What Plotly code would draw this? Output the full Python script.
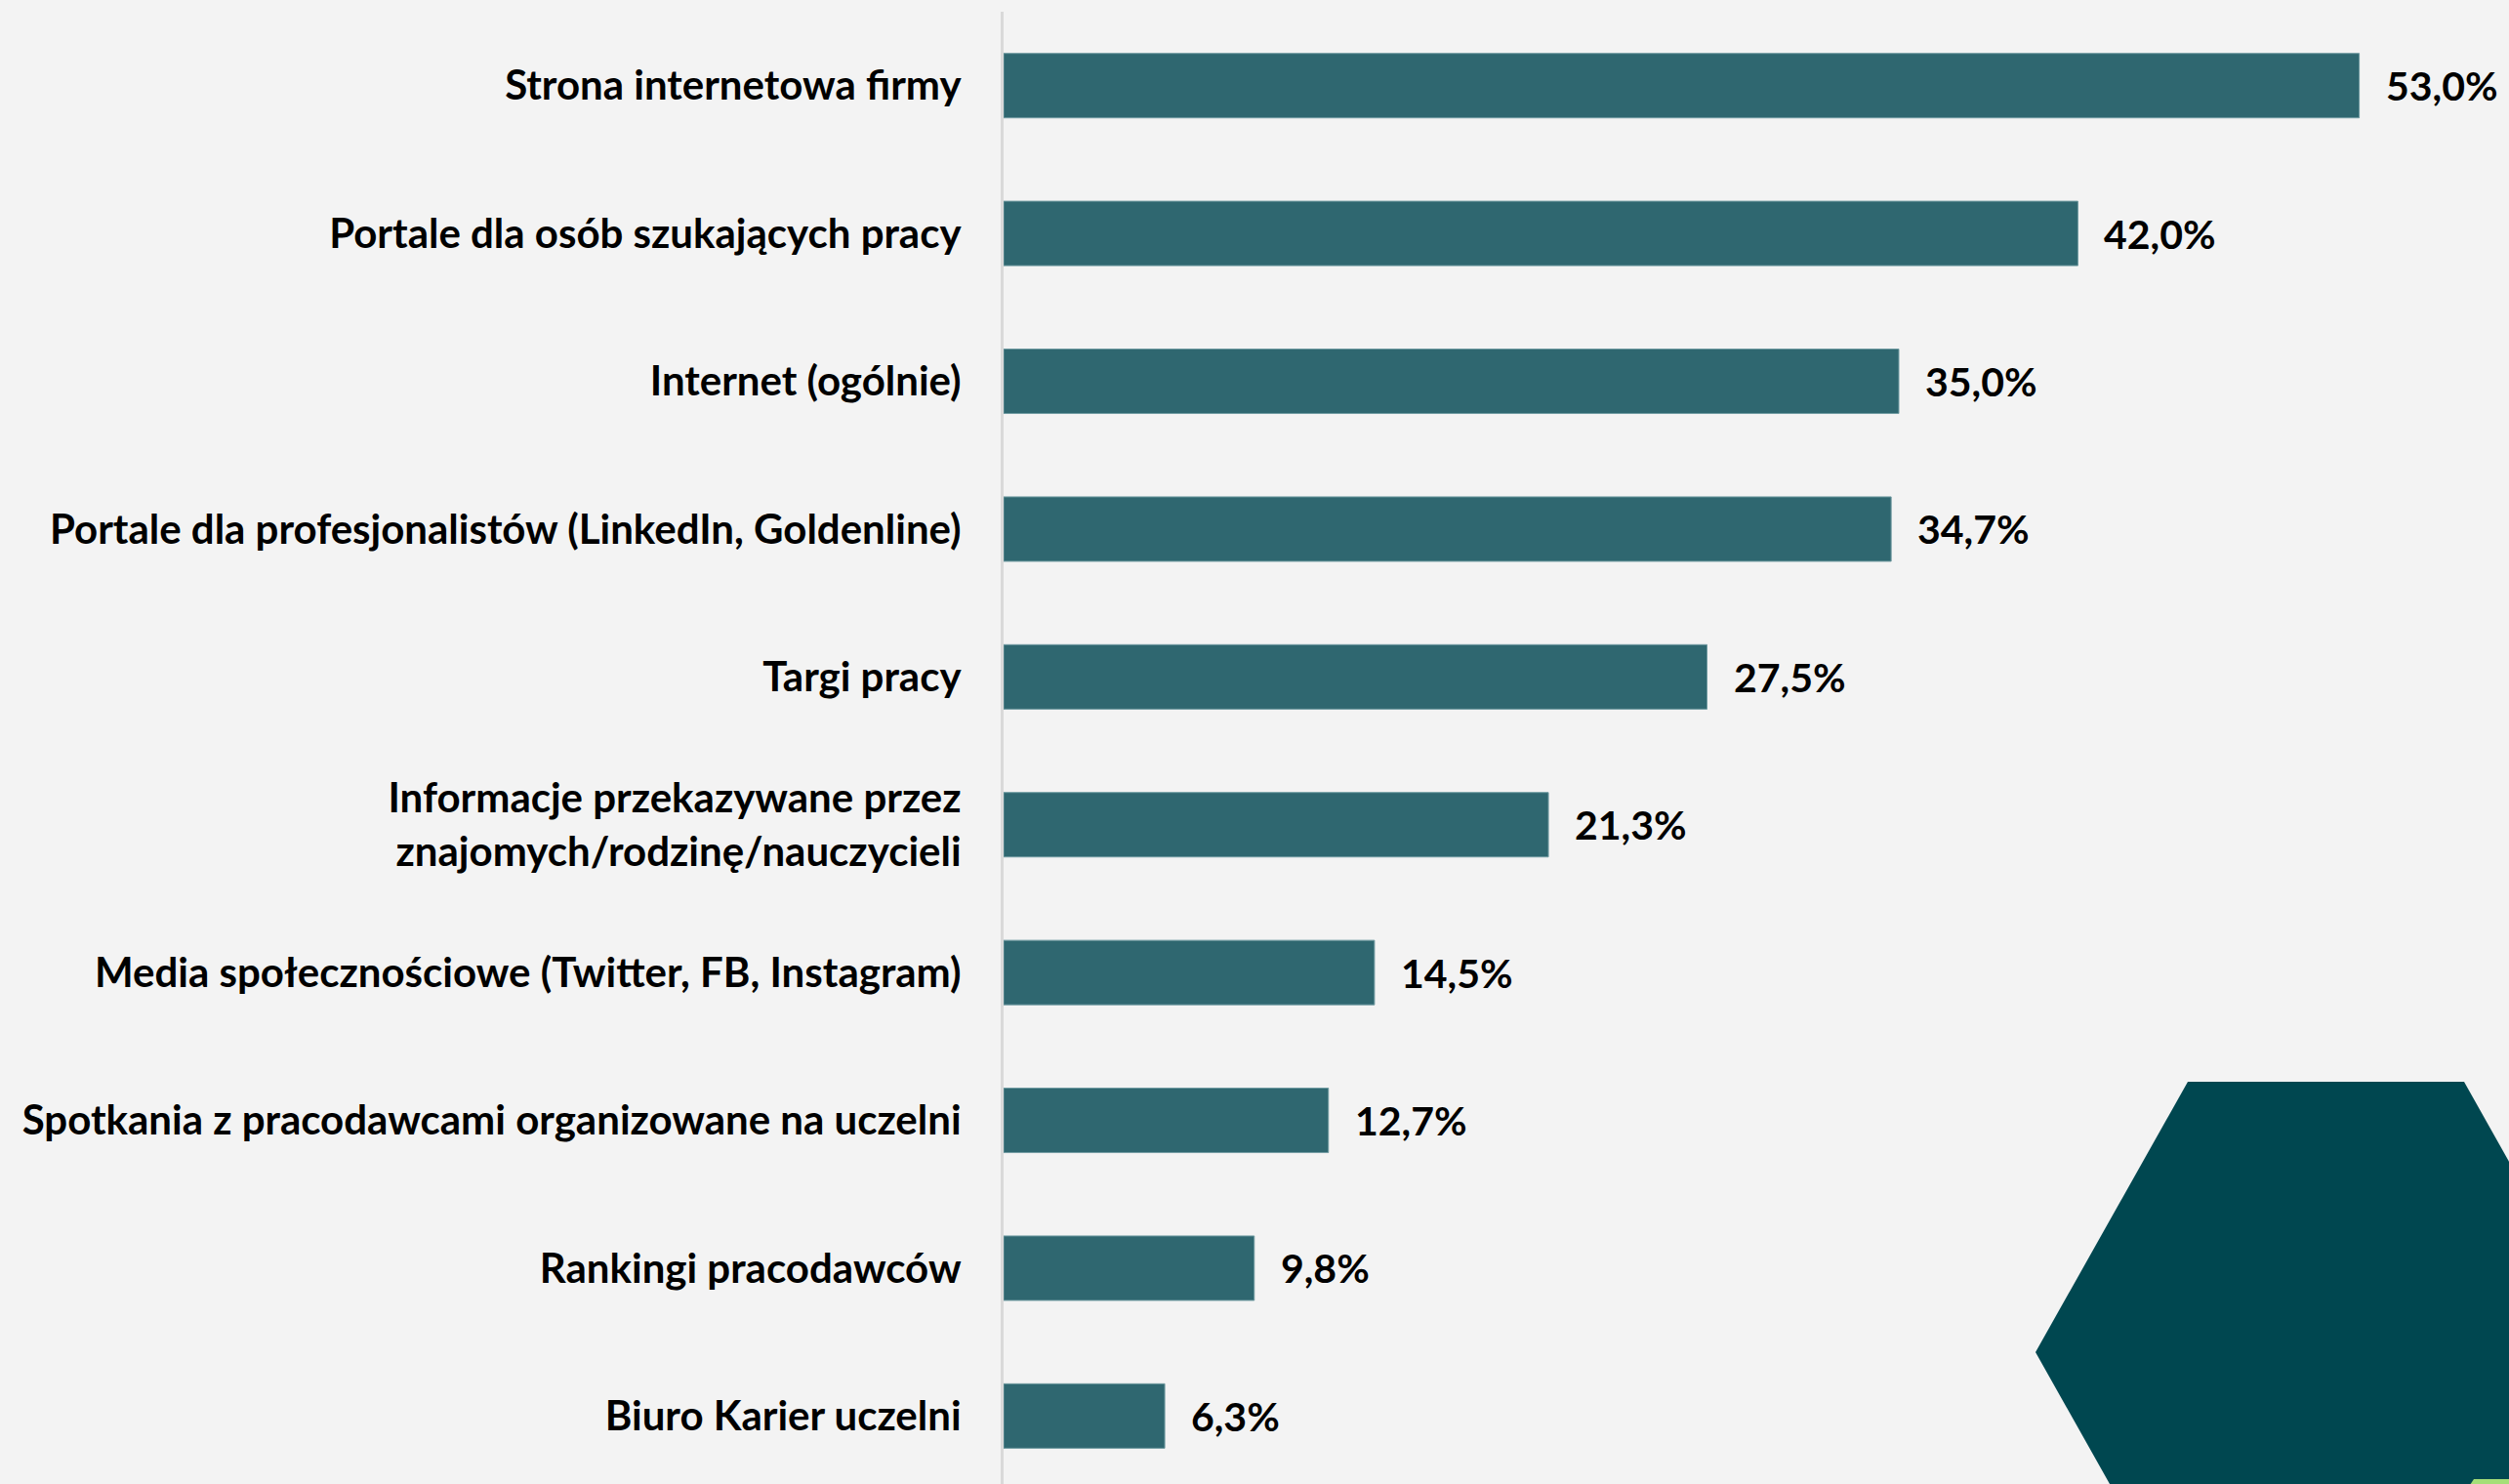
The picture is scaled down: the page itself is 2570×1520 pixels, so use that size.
import plotly.graph_objects as go

categories = [
    "Strona internetowa firmy",
    "Portale dla osób szukających pracy",
    "Internet (ogólnie)",
    "Portale dla profesjonalistów (LinkedIn, Goldenline)",
    "Targi pracy",
    "Informacje przekazywane przez<br>znajomych/rodzinę/nauczycieli",
    "Media społecznościowe (Twitter, FB, Instagram)",
    "Spotkania z pracodawcami organizowane na uczelni",
    "Rankingi pracodawców",
    "Biuro Karier uczelni",
]
values = [53.0, 42.0, 35.0, 34.7, 27.5, 21.3, 14.5, 12.7, 9.8, 6.3]

W, H = 2570, 1520
ML, MR, MT, MB = 1028, 0, 12, 0
PW, PH = W - ML - MR, H - MT - MB

FONT = "Lato"
BAR_COLOR = "#2f6770"
BG = "#f3f3f3"

fig = go.Figure()
fig.add_trace(go.Bar(
    x=values,
    y=categories,
    orientation="h",
    marker=dict(color=BAR_COLOR, line=dict(color="#6f9aa0", width=1)),
    width=0.436,
    hoverinfo="skip",
))

for c, v in zip(categories, values):
    fig.add_annotation(
        x=v, y=c, xref="x", yref="y",
        text=f"{v:.1f}".replace(".", ",") + "%",
        showarrow=False, xanchor="left", yanchor="middle", xshift=25,
        font=dict(family=FONT, size=41, color="#000000", weight=700),
    )

def px_to_paper(px, py):
    return (px - ML) / PW, 1 - (py - MT) / PH

def path_from(points):
    pts = [px_to_paper(x, y) for x, y in points]
    return "M " + " L ".join(f"{x:.5f},{y:.5f}" for x, y in pts) + " Z"

hexagon = [(2085, 1385), (2241, 1108), (2524, 1108), (2680, 1385), (2524, 1662), (2241, 1662)]
fig.add_shape(type="path", xref="paper", yref="paper", path=path_from(hexagon),
              fillcolor="#004750", line=dict(width=0), layer="below")
green = [(2530, 1521), (2534, 1515), (2575, 1515), (2575, 1521)]
fig.add_shape(type="path", xref="paper", yref="paper", path=path_from(green),
              fillcolor="#a5df78", line=dict(width=0), layer="above")

fig.update_layout(
    width=W, height=H,
    margin=dict(l=ML, r=MR, t=MT, b=MB, pad=0),
    paper_bgcolor=BG, plot_bgcolor=BG,
    showlegend=False,
    xaxis=dict(range=[0, PW / 26.2], showgrid=False, zeroline=False,
               showticklabels=False, showline=False, fixedrange=True),
    yaxis=dict(range=[9.46, -0.5], showgrid=False, zeroline=False,
               showline=True, linecolor="#d9d9d9", linewidth=3,
               ticks="", ticklabelstandoff=32,
               tickfont=dict(family=FONT, size=42, color="#000000", weight=700),
               fixedrange=True),
)

fig.write_html("out.html", config={"displayModeBar": False},
               post_script="document.body.style.margin='0';document.body.style.overflow='hidden';")
